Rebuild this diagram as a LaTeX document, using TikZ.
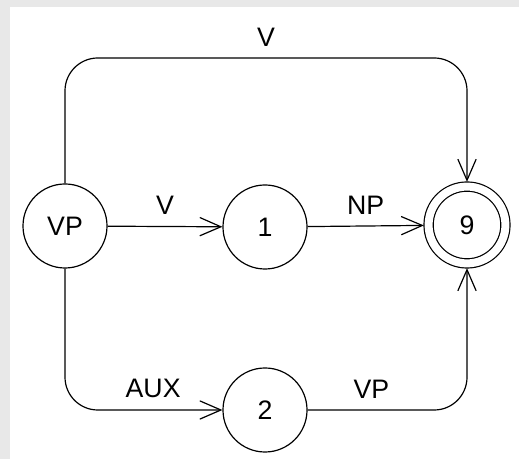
\documentclass[tikz,border=0pt]{standalone}
\usepackage{fontspec}
\setmainfont{Liberation Sans}
\usetikzlibrary{arrows.meta}

\begin{document}
\begin{tikzpicture}[x=0.025cm, y=0.025cm,
  >={Straight Barb[length=15pt,width=13pt]},
  state/.style={circle, draw, line width=0.85pt, minimum size=2.1cm,
    inner sep=0pt, font=\fontsize{19}{22}\selectfont},
  final/.style={state, double, double distance=0.2cm, minimum size=1.92cm,
    outer sep=0.12cm},
  arc/.style={->, line width=0.85pt, rounded corners=0.82cm},
  lab/.style={inner sep=0pt, font=\fontsize{19}{22}\selectfont}]

% Frame: grey margin, white sheet
\fill[gray!18] (0,0) rectangle (519,459);
\fill[white] (10,0) rectangle (519,452);
\useasboundingbox (0,0) rectangle (519,459);

% States
\node[state] (vp)   at (65,233)  {VP};
\node[state] (one)  at (265,232) {1};
\node[final] (nine) at (467,234) {9};
\node[state] (two)  at (265,49)  {2};

% Level of the upper arc
\coordinate (top) at (0,401);

% Arcs
\draw[arc] (vp) -- node[lab, above=8pt] {V} (one);
\draw[arc] (one) -- node[lab, above=8pt] {NP} (nine);
\draw[arc] (vp.north) -- (vp.north |- top) -| node[lab, above=8pt, pos=0.25] {V} (nine.north);
\draw[arc] (vp.south) |- node[lab, above=8pt, pos=0.78] {AUX} (two.west);
\draw[arc] (two.east) -| node[lab, above=8pt, pos=0.2] {VP} (nine.south);

\end{tikzpicture}
\end{document}
